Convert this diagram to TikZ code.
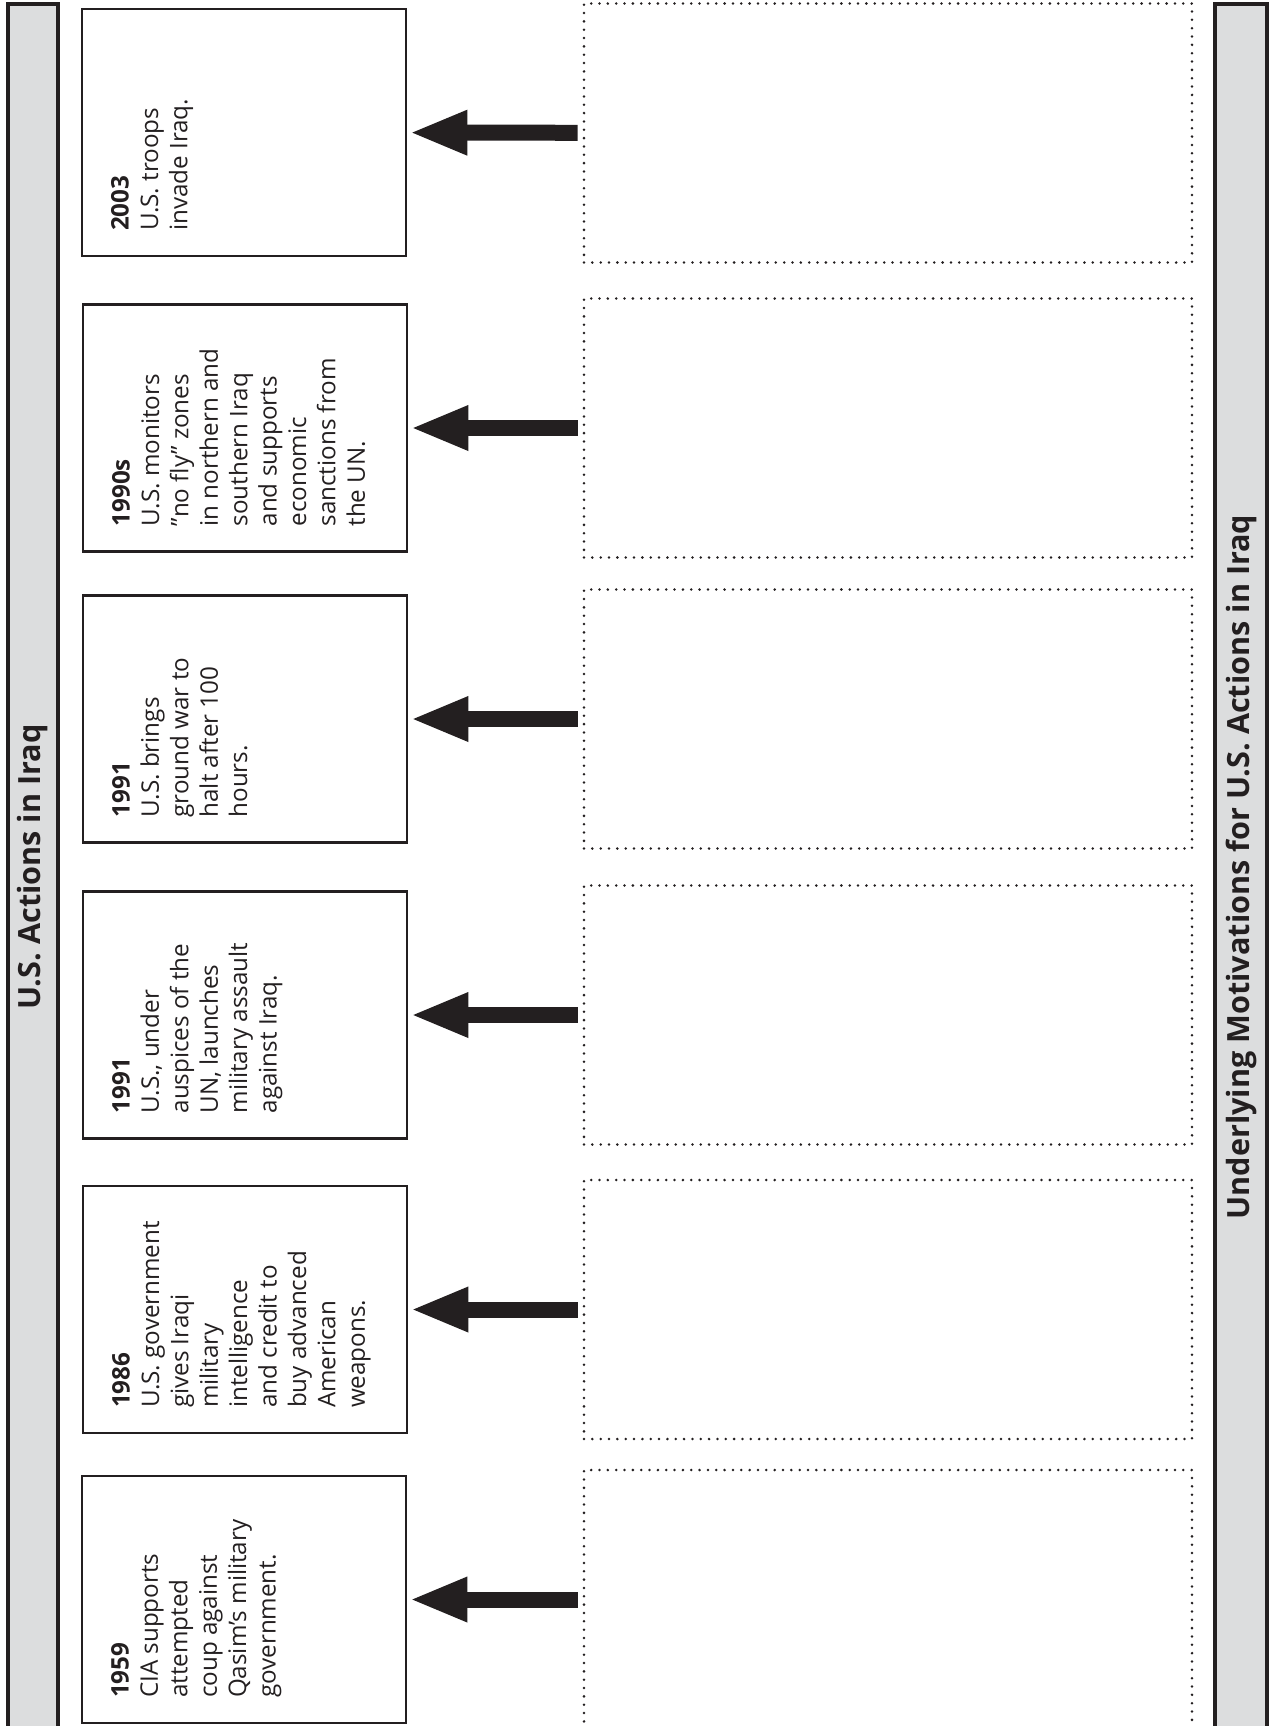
\documentclass[tikz,border=0pt]{standalone}
\usepackage{fontspec}
\setmainfont{Open Sans}
\usetikzlibrary{arrows.meta, positioning}
\definecolor{inkdark}{HTML}{231F20}
\definecolor{barfill}{HTML}{DCDDDE}

\begin{document}
\begin{tikzpicture}[x=0.5pt, y=-0.5pt,
    bar/.style={draw=inkdark, line width=1.6pt, fill=barfill, rotate=90,
                minimum height=25pt, inner sep=0pt, text=inkdark,
                font=\fontsize{15.3}{18}\selectfont\bfseries},
    evbox/.style={draw=inkdark, line width=1.3pt, minimum width=162pt,
                minimum height=123.5pt, inner sep=0pt},
    evtext/.style={rotate=90, anchor=north west, inner sep=0pt, align=left,
                text=inkdark, font=\fontsize{12.1}{14.7}\selectfont},
    motbox/.style={draw=inkdark, line width=1.4pt, line cap=round,
                dash pattern=on 0pt off 4.17pt, minimum width=304pt,
                minimum height=129.5pt, inner sep=0pt},
    push/.style={-{Triangle[length=29pt, width=20.5pt]}, line width=8pt,
                inkdark, shorten >=1pt, shorten <=2.5pt},
]
    \clip (0, 0) rectangle (1269, 1726);

    % side bars
    \node[bar, minimum width=863pt] (usbar) at (33, 867) {U.S. Actions in Iraq};
    \node[bar, minimum width=863pt, minimum height=26pt] (motbar) at (1241, 867)
        {Underlying Motivations for U.S. Actions in Iraq};

    % events
    \node[evbox] (ev03) at (244, 132.5) {};
    \node[evbox] (ev90s) at (245, 428) {};
    \node[evbox] (ev91b) at (245, 719) {};
    \node[evbox] (ev91a) at (245, 1015) {};
    \node[evbox] (ev86) at (245, 1309.5) {};
    \node[evbox] (ev59) at (244, 1599.5) {};

    \node[evtext] (tx03) at ([shift={(15pt,13pt)}]ev03.south west)
        {\textbf{2003}\\U.S. troops\\invade Iraq.};
    \node[evtext] (tx90s) at ([shift={(15pt,13pt)}]ev90s.south west)
        {\textbf{1990s}\\U.S. monitors\\”no fly” zones\\in northern and\\southern Iraq\\and supports\\economic\\sanctions from\\the UN.};
    \node[evtext] (tx91b) at ([shift={(15pt,13pt)}]ev91b.south west)
        {\textbf{1991}\\U.S. brings\\ground war to\\halt after 100\\hours.};
    \node[evtext] (tx91a) at ([shift={(15pt,13pt)}]ev91a.south west)
        {\textbf{1991}\\U.S., under\\auspices of the\\UN, launches\\military assault\\against Iraq.};
    \node[evtext] (tx86) at ([shift={(15pt,13pt)}]ev86.south west)
        {\textbf{1986}\\U.S. government\\gives Iraqi\\military\\intelligence\\and credit to\\buy advanced\\American\\weapons.};
    \node[evtext] (tx59) at ([shift={(15pt,13pt)}]ev59.south west)
        {\textbf{1959}\\CIA supports\\attempted\\coup against\\Qasim’s military\\government.};

    % motivations, left blank
    \node[motbox] (mo03) at (888, 133) {};
    \node[motbox] (mo90s) at (888, 428) {};
    \node[motbox] (mo91b) at (888, 719) {};
    \node[motbox] (mo91a) at (888, 1015) {};
    \node[motbox] (mo86) at (888, 1309.5) {};
    \node[motbox] (mo59) at (888, 1599.5) {};

    \draw[push] (mo03) -- (ev03);
    \draw[push] (mo90s) -- (ev90s);
    \draw[push] (mo91b) -- (ev91b);
    \draw[push] (mo91a) -- (ev91a);
    \draw[push] (mo86) -- (ev86);
    \draw[push] (mo59) -- (ev59);
\end{tikzpicture}
\end{document}
